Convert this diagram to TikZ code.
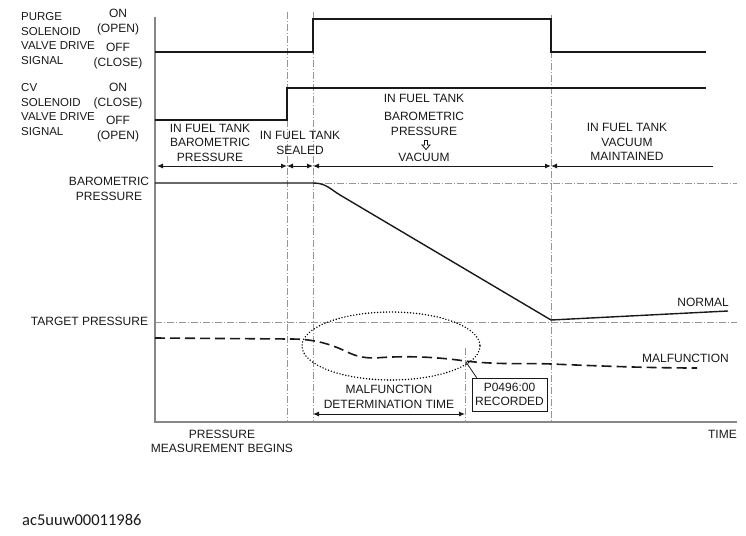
\documentclass[tikz,border=0pt]{standalone}
\usepackage{fontspec}
\setmainfont{Liberation Sans}
\newfontfamily\codefont{Carlito}
\usepackage{tikz}
\usetikzlibrary{arrows.meta, positioning}
\definecolor{inkcolor}{RGB}{25, 25, 25}
\definecolor{axiscolor}{RGB}{135, 135, 135}
\definecolor{guidecolor}{RGB}{150, 150, 150}

\begin{document}
\begin{tikzpicture}[
    x=1pt, y=-1pt,
    label/.style={font=\fontsize{12}{14.5}\selectfont, align=center, inner sep=0pt, text=inkcolor},
    sidelabel/.style={label, font=\fontsize{11.5}{14.5}\selectfont, align=left, anchor=west},
    axis/.style={draw=axiscolor, line width=1.6pt},
    guide/.style={draw=guidecolor, line width=0.6pt, dash pattern=on 7pt off 2pt on 1pt off 2pt},
    signal/.style={draw=inkcolor, line width=1.2pt},
    malf/.style={draw=inkcolor, line width=1.6pt, dash pattern=on 10pt off 5pt},
    dots/.style={draw=black, line width=1.6pt, line cap=round, dash pattern=on 0pt off 3pt},
    dim/.style={draw=inkcolor, line width=1pt, {Latex[length=6pt,width=5pt]}-{Latex[length=6pt,width=5pt]}},
    dimleft/.style={draw=inkcolor, line width=1pt, {Latex[length=6pt,width=5pt]}-},
    recbox/.style={draw=inkcolor, line width=0.8pt, minimum width=75pt, minimum height=33pt, inner sep=2pt},
]
    \useasboundingbox (0,0) rectangle (746,535);

    % Axes
    \draw[axis] (155,17) -- (155,422) -- (737,422);

    % Guide lines
    \draw[guide] (287,12) -- (287,422);
    \draw[guide] (313,12) -- (313,422);
    \draw[guide] (551,15) -- (551,422);
    \draw[guide] (465,348) -- (465,422);
    \draw[guide] (313,183) -- (737,183);
    \draw[guide] (155,322) -- (737,322);

    % Drive signals
    \draw[signal] (155,52) -- (313,52) -- (313,19) -- (551,19) -- (551,52) -- (706,52);
    \draw[signal] (155,120) -- (287,120) -- (287,88) -- (706,88);

    % Signal labels
    \node[sidelabel] (purge) at (21,38.5) {PURGE\\SOLENOID\\VALVE DRIVE\\SIGNAL};
    \node[label] (purgeon) at (118,22) {ON\\(OPEN)};
    \node[label] (purgeoff) at (118,56) {OFF\\(CLOSE)};
    \node[sidelabel] (cv) at (21,109.5) {CV\\SOLENOID\\VALVE DRIVE\\SIGNAL};
    \node[label] (cvon) at (118,96) {ON\\(CLOSE)};
    \node[label] (cvoff) at (118,129) {OFF\\(OPEN)};

    % Phases
    \draw[dim] (157,166) -- (287,166);
    \draw[dim] (287,166) -- (313,166);
    \draw[dim] (313,166) -- (551,166);
    \draw[dimleft] (551,166) -- (713,166);
    \node[label] (phasebaro) at (210,142.5) {IN FUEL TANK\\BAROMETRIC\\PRESSURE};
    \node[label] (phaseseal) at (300,143) {IN FUEL TANK\\SEALED};
    \node[label] (phasetank) at (424,98) {IN FUEL TANK};
    \node[label] (phasedrop) at (424,124) {BAROMETRIC\\PRESSURE};
    \draw[draw=inkcolor, line width=0.8pt, line join=miter] (424.5,140.5) -- (427.5,140.5) -- (427.5,145) -- (430,145)
        -- (426,149.5) -- (422,145) -- (424.5,145) -- cycle;
    \node[label] (phasevac) at (424,157) {VACUUM};
    \node[label] (phasekeep) at (627,142) {IN FUEL TANK\\VACUUM\\MAINTAINED};

    % Pressure curves
    \draw[signal, line width=1.4pt] (155,183) -- (313,183) .. controls (326,183) and (330,189) .. (340,195) -- (551,320) -- (728,311);
    \draw[malf] (155,338) -- (290,339) .. controls (310,339) and (325,342) .. (343,350)
        .. controls (355,356) and (362,358) .. (375,358) .. controls (400,356) and (430,356) .. (465,361)
        .. controls (500,365) and (530,363) .. (551,364) .. controls (600,366) and (650,368) .. (697,368);
    \node[label] (baro) at (109,189) {BAROMETRIC\\PRESSURE};
    \node[label] (target) at (89.5,321) {TARGET PRESSURE};
    \node[label, anchor=east] (normal) at (729,302) {NORMAL};
    \node[label, anchor=east] (malfunction) at (729,358) {MALFUNCTION};

    % Determination
    \draw[dots] (391,346) ellipse [x radius=89, y radius=34];
    \draw[dim] (313,414) -- (465,414);
    \node[label] (determ) at (389,397) {MALFUNCTION\\DETERMINATION TIME};
    \coordinate (detect) at (466,362);
    \node[label, recbox] (code) at (509.5,394.5) {P0496:00\\RECORDED};
    \draw[draw=inkcolor, line width=0.8pt] ([xshift=5pt]code.north west) -- (detect);

    % Time axis labels
    \node[label] (begins) at (222,441.5) {PRESSURE\\MEASUREMENT BEGINS};
    \node[label, anchor=east] (time) at (737,434) {TIME};
    \node[label, anchor=west, font=\codefont\fontsize{16.5}{18}\selectfont] (figid) at (22,520) {ac5uuw00011986};

\end{tikzpicture}
\end{document}
